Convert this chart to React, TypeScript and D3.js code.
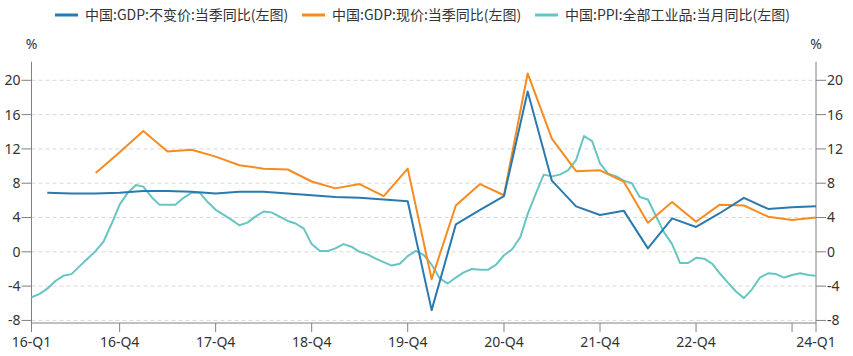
import React from "react";
import * as d3 from "d3";

const W = 853;
const H = 356;

// Quarter-end months for GDP series (2016-Q1 .. 2024-Q1)
const quarterDates: string[] = [];
for (let y = 2016; y <= 2024; y++) {
  for (const m of [3, 6, 9, 12]) {
    if (y === 2024 && m > 3) break;
    quarterDates.push(`${y}-${String(m).padStart(2, "0")}`);
  }
}

const gdpReal: number[] = [
  6.9, 6.8, 6.8, 6.9,
  7.1, 7.1, 7.0, 6.8,
  7.0, 7.0, 6.8, 6.6,
  6.4, 6.3, 6.1, 5.9,
  -6.8, 3.2, 4.9, 6.5,
  18.7, 8.3, 5.3, 4.3,
  4.8, 0.4, 3.9, 2.9,
  4.5, 6.3, 5.0, 5.2,
  5.3,
];

const gdpNominal: (number | null)[] = [
  null, null, 9.2, 11.6,
  14.1, 11.7, 11.9, 11.1,
  10.1, 9.7, 9.6, 8.2,
  7.4, 7.9, 6.5, 9.7,
  -3.2, 5.4, 7.9, 6.6,
  20.8, 13.2, 9.4, 9.5,
  8.2, 3.4, 5.8, 3.5,
  5.5, 5.4, 4.1, 3.7,
  4.0,
];

// Monthly PPI (2016-01 .. 2024-03)
const ppi: number[] = [
  -5.3, -4.9, -4.3, -3.4, -2.8, -2.6, -1.7, -0.8, 0.1, 1.2, 3.3, 5.5,
  6.9, 7.8, 7.6, 6.4, 5.5, 5.5, 5.5, 6.3, 6.9, 6.9, 5.8, 4.9,
  4.3, 3.7, 3.1, 3.4, 4.1, 4.7, 4.6, 4.1, 3.6, 3.3, 2.7, 0.9,
  0.1, 0.1, 0.4, 0.9, 0.6, 0.0, -0.3, -0.8, -1.2, -1.6, -1.4, -0.5,
  0.1, -0.4, -1.5, -3.1, -3.7, -3.0, -2.4, -2.0, -2.1, -2.1, -1.5, -0.4,
  0.3, 1.7, 4.4, 6.8, 9.0, 8.8, 9.0, 9.5, 10.7, 13.5, 12.9, 10.3,
  9.1, 8.8, 8.3, 8.0, 6.4, 6.1, 4.2, 2.3, 0.9, -1.3, -1.3, -0.7,
  -0.8, -1.4, -2.5, -3.6, -4.6, -5.4, -4.4, -3.0, -2.5, -2.6, -3.0, -2.7,
  -2.5, -2.7, -2.8,
];

const xTickDates = ["2016-01", "2016-12", "2017-12", "2018-12", "2019-12", "2020-12", "2021-12", "2022-12", "2023-12", "2024-03"];
const xTickLabels = ["16-Q1", "16-Q4", "17-Q4", "18-Q4", "19-Q4", "20-Q4", "21-Q4", "22-Q4", "", "24-Q1"];
const yTicks = [-8, -4, 0, 4, 8, 12, 16, 20];

const seriesNames = [
  "中国:GDP:不变价:当季同比(左图)",
  "中国:GDP:现价:当季同比(左图)",
  "中国:PPI:全部工业品:当月同比(左图)",
];
const colors = ["#2a7ab0", "#f68b1f", "#67c5c3"];

const parse = (s: string) => {
  const [y, m] = s.split("-").map(Number);
  return new Date(Date.UTC(y, m - 1, 1));
};

export default function App() {
  const left = 31.5;
  const right = 816;
  const top = 61.7;
  const bottom = 323;

  const x = d3.scaleUtc().domain([parse("2016-01"), parse("2024-03")]).range([left, right]);
  const y = d3.scaleLinear().domain([-8.3, 22.17]).range([bottom, top]);

  const ppiDates = ppi.map((_, i) => new Date(Date.UTC(2016, i, 1)));
  const qDates = quarterDates.map(parse);

  const line = d3
    .line<[Date, number | null]>()
    .defined((d) => d[1] !== null)
    .x((d) => x(d[0]))
    .y((d) => y(d[1] as number));

  const pReal = line(qDates.map((d, i) => [d, gdpReal[i]]));
  const pNom = line(qDates.map((d, i) => [d, gdpNominal[i]]));
  const pPpi = line(ppiDates.map((d, i) => [d, ppi[i]]));

  const font = "'Noto Sans', 'Noto Sans CJK SC', sans-serif";
  const cjkFont = "'Noto Sans CJK SC', 'Noto Sans', sans-serif";
  const textColor = "#333";
  const axisColor = "#808080";

  const legendX = [55, 302, 535];

  return (
    <svg
      width={W}
      height={H}
      style={{ position: "absolute", left: 0, top: 0, background: "#fff" }}
      fontFamily={font}
    >
      {/* legend */}
      {seriesNames.map((n, i) => (
        <g key={n}>
          <line x1={legendX[i]} x2={legendX[i] + 23} y1={15} y2={15} stroke={colors[i]} strokeWidth={3} />
          <text x={legendX[i] + 30} y={15} dy="0.35em" fontSize={14} fill={textColor} fontFamily={cjkFont}>
            {n}
          </text>
        </g>
      ))}

      {/* gridlines */}
      {yTicks.map((t) => (
        <line
          key={"g" + t}
          x1={left}
          x2={right}
          y1={y(t)}
          y2={y(t)}
          stroke="#d9d9d9"
          strokeDasharray="4,3"
          strokeWidth={1}
        />
      ))}

      {/* axes */}
      <line x1={left} x2={left} y1={top} y2={bottom} stroke={axisColor} />
      <line x1={right} x2={right} y1={top} y2={bottom} stroke={axisColor} />
      <line x1={left} x2={right} y1={bottom} y2={bottom} stroke={axisColor} />

      {yTicks.map((t) => (
        <g key={"yt" + t}>
          <line x1={left - 10} x2={left} y1={y(t)} y2={y(t)} stroke={axisColor} />
          <text x={left - 11} y={y(t)} dy="0.35em" textAnchor="end" fontSize={14} fill={textColor}>
            {t}
          </text>
          <line x1={right} x2={right + 10} y1={y(t)} y2={y(t)} stroke={axisColor} />
          <text x={right + 11} y={y(t)} dy="0.35em" textAnchor="start" fontSize={14} fill={textColor}>
            {t}
          </text>
        </g>
      ))}

      <text x={left} y={44} dy="0.35em" textAnchor="middle" fontSize={14} fill={textColor}>%</text>
      <text x={right} y={44} dy="0.35em" textAnchor="middle" fontSize={14} fill={textColor}>%</text>

      {xTickDates.map((d, i) => {
        const xx = x(parse(d));
        return (
          <g key={"xt" + d}>
            <line x1={xx} x2={xx} y1={bottom} y2={bottom + 9} stroke={axisColor} />
            {xTickLabels[i] && (
              <text x={xx} y={347} textAnchor="middle" fontSize={14} fill={textColor}>
                {xTickLabels[i]}
              </text>
            )}
          </g>
        );
      })}

      {/* series */}
      <path d={pPpi || ""} fill="none" stroke={colors[2]} strokeWidth={2} strokeLinejoin="round" />
      <path d={pNom || ""} fill="none" stroke={colors[1]} strokeWidth={2} strokeLinejoin="round" />
      <path d={pReal || ""} fill="none" stroke={colors[0]} strokeWidth={2} strokeLinejoin="round" />
    </svg>
  );
}
